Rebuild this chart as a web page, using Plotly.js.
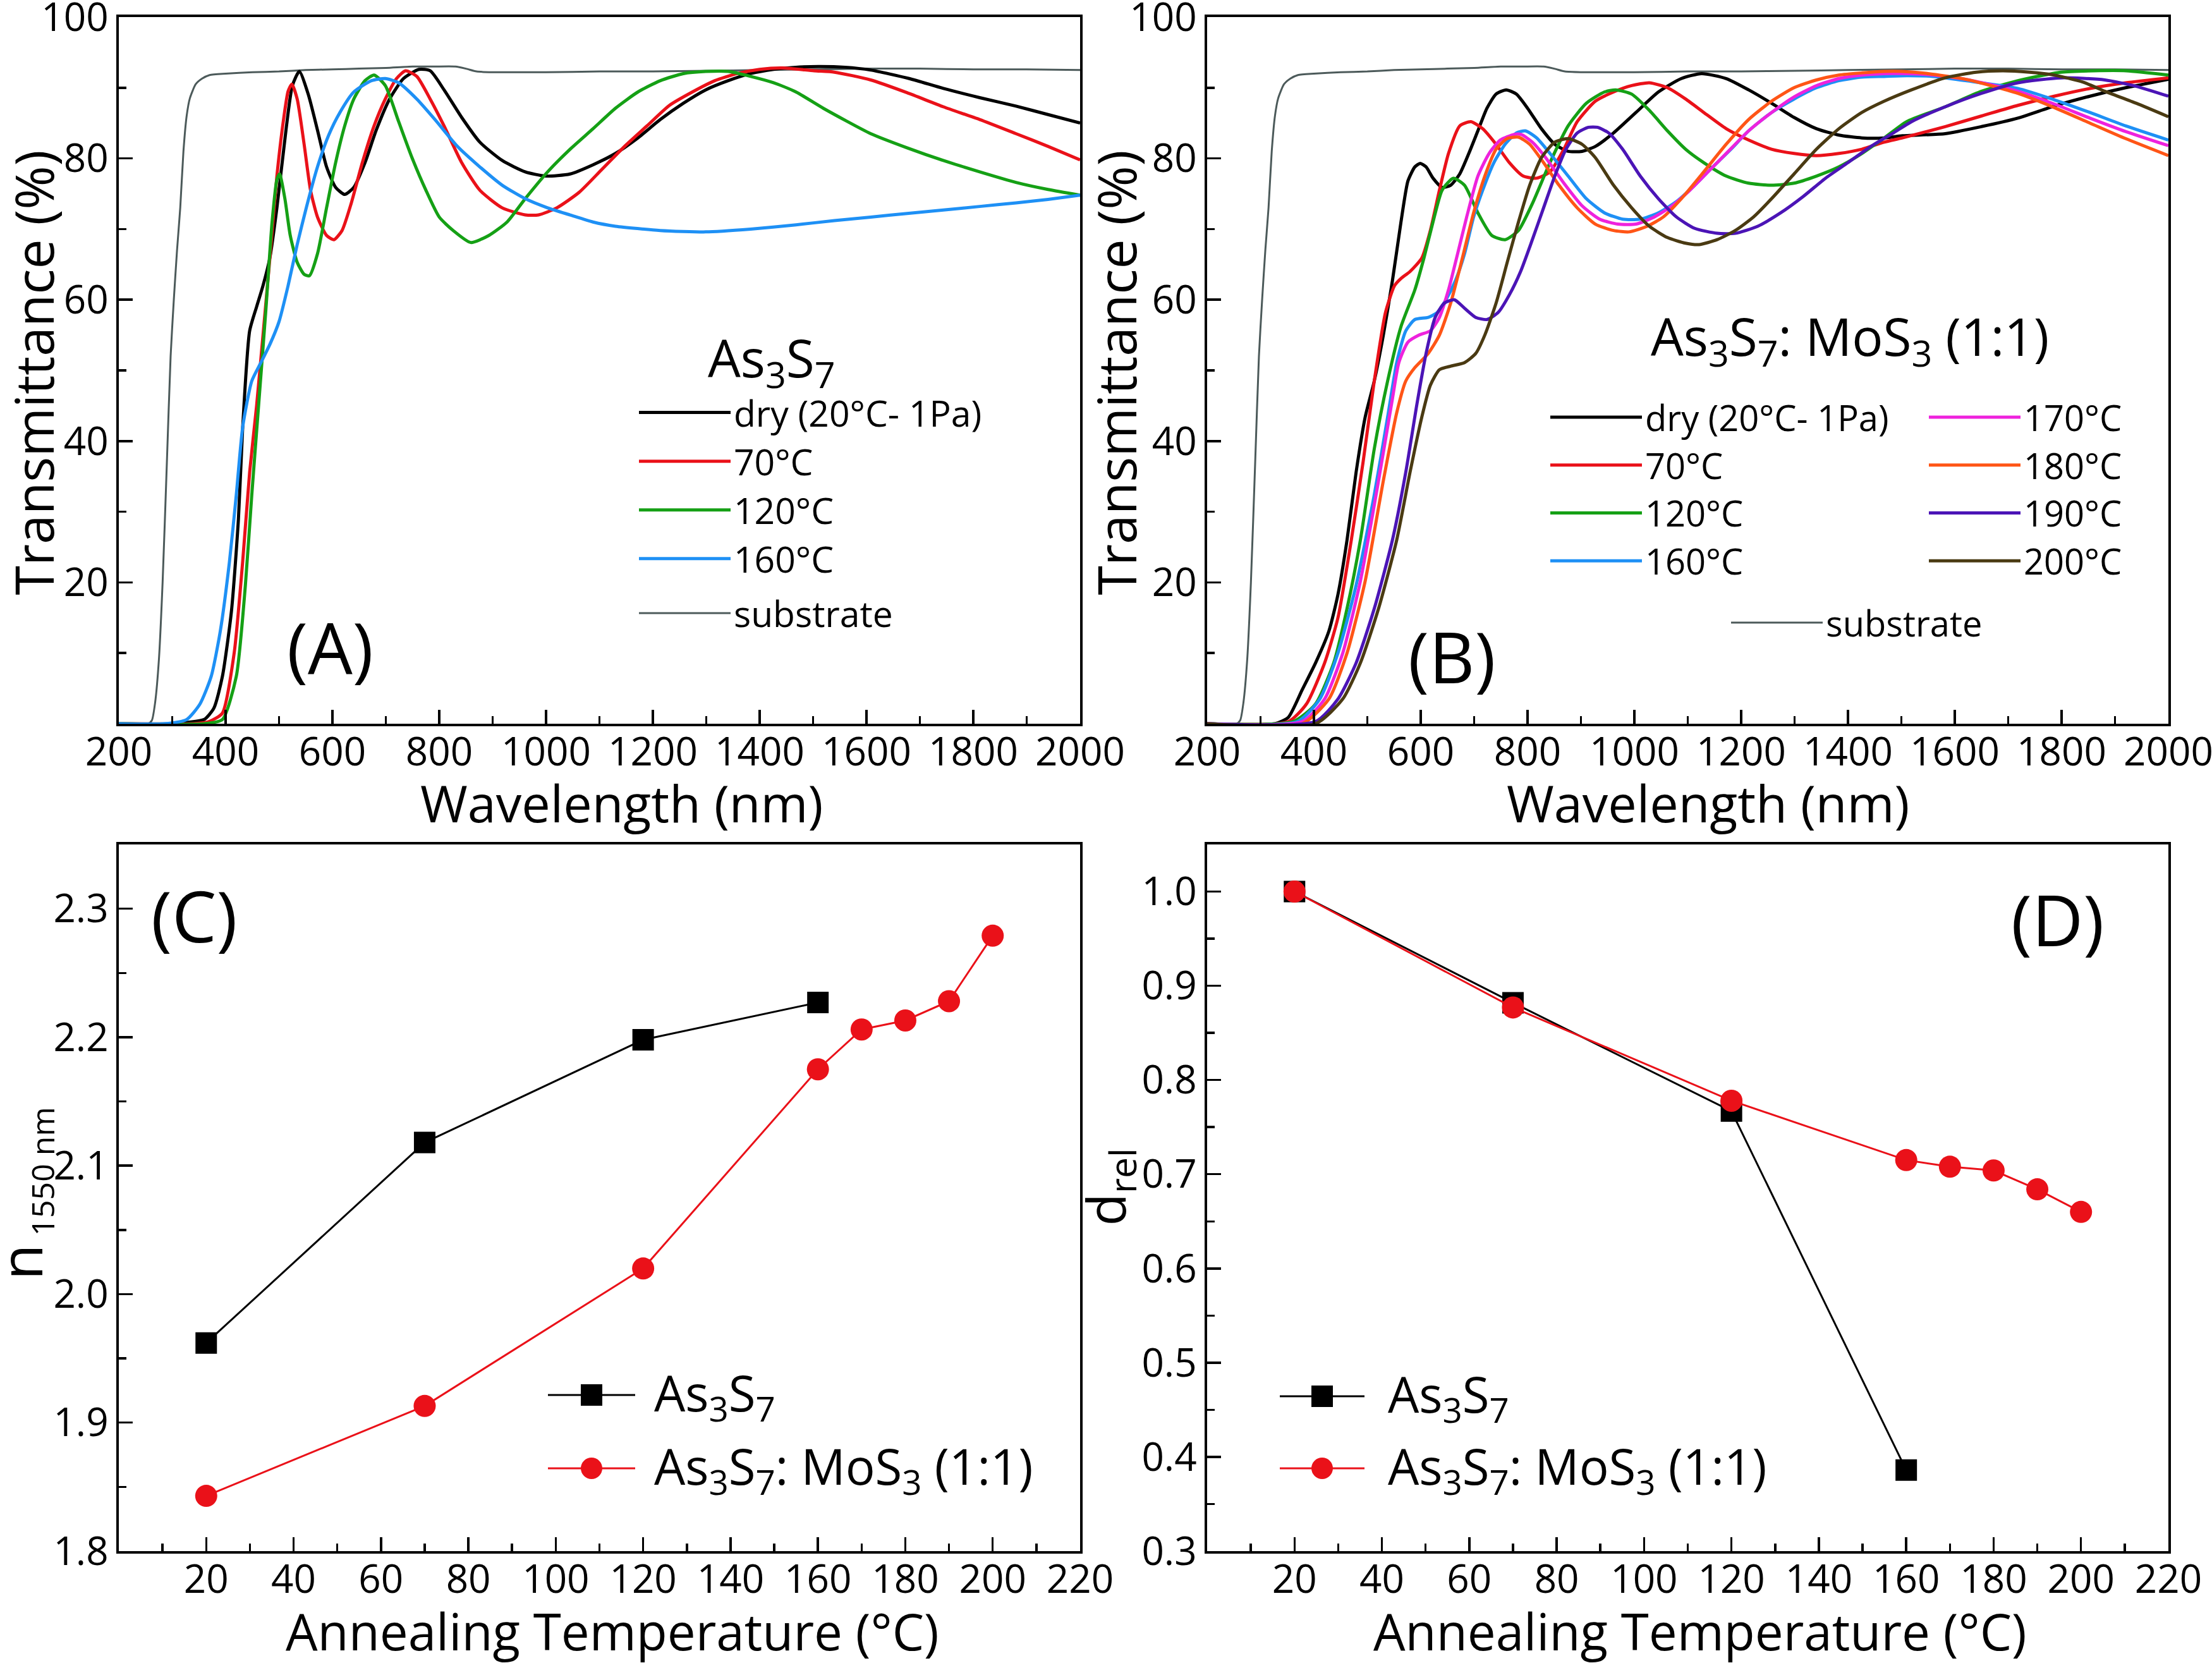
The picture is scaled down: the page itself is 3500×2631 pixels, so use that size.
<!DOCTYPE html>
<html>
<head>
<meta charset="utf-8">
<script src="https://cdn.plot.ly/plotly-3.0.1.min.js"></script>
<style>
  html, body { margin: 0; padding: 0; background: #ffffff; }
  #chart { width: 3500px; height: 2631px; }
</style>
</head>
<body>
<div id="chart"></div>
<script>
// ---------- Transmittance spectra (wavelength in nm, transmittance in %) ----------

// Bare glass substrate
const wlSubstrate = [200, 255, 262, 268, 275, 282, 290, 297, 303, 309, 315, 321, 327, 333, 344, 356, 370, 400, 450, 500, 550, 600, 650, 700, 750, 790, 830, 850, 870, 900, 1000, 1100, 1200, 1300, 1400, 1500, 1600, 1700, 1800, 1900, 2000];
const trSubstrate = [0, 0, 0.5, 3, 9, 20, 37, 52, 60, 67, 73, 81, 86, 88.5, 90.5, 91.3, 91.8, 92.0, 92.2, 92.3, 92.5, 92.6, 92.7, 92.8, 93.0, 93.0, 93.0, 92.7, 92.3, 92.2, 92.2, 92.3, 92.3, 92.4, 92.5, 92.6, 92.7, 92.7, 92.6, 92.6, 92.5];

// (A) As3S7 films
const wlA_dry = [200, 300, 330, 360, 378, 394, 411, 424, 432, 445, 458, 470, 483, 496, 513, 525, 538, 555, 572, 589, 606, 623, 640, 661, 682, 707, 733, 762, 783, 809, 842, 876, 918, 961, 999, 1045, 1088, 1130, 1172, 1214, 1257, 1299, 1341, 1383, 1426, 1468, 1510, 1560, 1608, 1680, 1744, 1812, 1880, 1940, 2000];
const trA_dry = [0, 0, 0.2, 0.6, 2.2, 6.7, 16, 29, 42, 55.6, 59, 62, 66, 73, 84, 90.3, 92.3, 89, 84, 78.8, 75.9, 74.9, 75.9, 79.4, 84, 88.4, 91.3, 92.6, 92.4, 89.7, 85.8, 82.3, 79.7, 78.1, 77.5, 77.8, 79.1, 80.7, 82.9, 85.5, 87.8, 89.7, 91, 92, 92.6, 92.9, 93.0, 92.9, 92.5, 91.3, 89.9, 88.6, 87.4, 86.2, 85];

const wlA_70 = [200, 340, 369, 394, 416, 432, 445, 458, 470, 483, 496, 509, 517, 524, 534, 547, 559, 572, 589, 603, 618, 635, 656, 678, 699, 720, 737, 758, 783, 809, 842, 876, 918, 961, 986, 1020, 1062, 1104, 1147, 1189, 1231, 1274, 1316, 1358, 1400, 1443, 1502, 1540, 1608, 1676, 1744, 1812, 1880, 1940, 2000];
const trA_70 = [0, 0, 0.3, 1.5, 10, 23, 35.6, 45, 55, 66, 77.5, 85.8, 89.5, 90.5, 88.4, 82, 75.5, 71.7, 69.1, 68.5, 69.8, 73.6, 79.4, 84.6, 88.4, 91.3, 92.4, 91.6, 88.4, 84.6, 79.4, 75.5, 73, 72, 72, 73, 75.2, 78.4, 81.7, 84.6, 87.5, 89.4, 91, 92, 92.6, 92.8, 92.4, 92.2, 91.1, 89.3, 87.3, 85.5, 83.5, 81.7, 79.8];

const wlA_120 = [200, 360, 394, 420, 437, 449, 462, 475, 487, 496, 501, 511, 521, 534, 547, 557, 572, 589, 606, 623, 640, 661, 678, 699, 724, 749, 775, 800, 826, 859, 893, 927, 961, 1003, 1045, 1088, 1130, 1172, 1214, 1257, 1299, 1341, 1383, 1426, 1468, 1519, 1608, 1676, 1744, 1812, 1880, 1940, 2000];
const trA_120 = [0, 0, 0.6, 6.7, 19.6, 32.4, 45.3, 58.2, 71, 77, 77.8, 74.3, 69.1, 65.3, 63.6, 63.4, 66.5, 73, 79.4, 84.6, 88.4, 91, 91.8, 90.3, 85.2, 80.1, 75.5, 71.7, 69.8, 68.1, 69.1, 71, 74.3, 78.1, 81.3, 84.2, 87.1, 89.4, 91, 92, 92.3, 92.3, 91.6, 90.7, 89.4, 87.1, 83.5, 81.5, 79.7, 78.1, 76.6, 75.6, 74.8];

const wlA_160 = [200, 285, 327, 352, 373, 390, 407, 420, 432, 449, 466, 483, 500, 517, 534, 551, 572, 593, 614, 640, 673, 699, 724, 758, 792, 834, 876, 918, 961, 1003, 1045, 1088, 1130, 1214, 1299, 1383, 1468, 1540, 1608, 1676, 1744, 1812, 1880, 1940, 2000];
const trA_160 = [0, 0, 0.6, 2.8, 6.7, 13.1, 22.8, 32.4, 42, 48.5, 51.1, 53.7, 56.9, 62, 67.8, 73, 78.8, 83.3, 86.5, 89.4, 91, 91.3, 90.7, 88.4, 85.5, 81.7, 78.8, 76.2, 74.3, 73, 72, 71, 70.4, 69.8, 69.6, 70, 70.6, 71.2, 71.7, 72.2, 72.7, 73.2, 73.7, 74.2, 74.8];

// (B) As3S7 : MoS3 (1:1) films
const wlB_dry = [200, 327, 352, 378, 403, 428, 445, 462, 479, 496, 513, 530, 547, 563, 576, 589, 599, 610, 623, 640, 656, 673, 690, 707, 724, 741, 760, 779, 800, 826, 851, 876, 902, 927, 961, 1003, 1045, 1088, 1126, 1172, 1214, 1257, 1299, 1341, 1383, 1426, 1468, 1502, 1582, 1650, 1718, 1786, 1853, 1920, 2000];
const trB_dry = [0, 0, 0.9, 4.8, 8.6, 13.1, 18.3, 26, 35.6, 43.4, 48.5, 55, 62.7, 71, 76.8, 78.8, 79.3, 78.8, 77.2, 75.9, 76.2, 77.8, 80.7, 83.9, 87.1, 89.1, 89.7, 89.1, 87.1, 84.2, 82, 81, 81, 81.7, 83.6, 86.5, 89.4, 91.3, 92, 91.3, 89.7, 87.8, 85.8, 84.2, 83.3, 82.9, 82.9, 83.2, 83.5, 84.5, 85.7, 87.4, 88.8, 90, 91.2];

const wlB_70 = [200, 352, 386, 420, 445, 470, 492, 513, 534, 551, 563, 580, 602, 618, 635, 652, 673, 694, 716, 741, 766, 792, 817, 842, 868, 893, 927, 961, 995, 1028, 1062, 1096, 1130, 1172, 1214, 1257, 1299, 1341, 1383, 1426, 1468, 1502, 1582, 1650, 1718, 1786, 1853, 1920, 2000];
const trB_70 = [0, 0.3, 2.8, 8.6, 15, 26, 37, 48.5, 58.2, 62, 63, 64, 65.9, 69.8, 75.5, 80.7, 84.6, 85.2, 84.2, 82, 79.4, 77.5, 77.2, 78.1, 81.3, 85.2, 88.1, 89.4, 90.3, 90.7, 90, 88.4, 86.5, 84.2, 82.6, 81.3, 80.7, 80.4, 80.7, 81.3, 82.3, 82.9, 84.5, 86, 87.5, 88.8, 89.9, 90.7, 91.4];

const wlB_120 = [200, 361, 403, 437, 462, 487, 513, 538, 563, 589, 606, 623, 640, 661, 682, 707, 733, 758, 783, 809, 842, 876, 910, 944, 965, 995, 1028, 1062, 1096, 1130, 1172, 1214, 1257, 1299, 1341, 1383, 1426, 1468, 1510, 1582, 1650, 1718, 1799, 1860, 1921, 2000];
const trB_120 = [0, 0.3, 2.8, 8.6, 16.3, 26, 38.9, 48.5, 56.2, 61.4, 65.9, 71, 75.5, 77.2, 76.2, 72.3, 69.1, 68.5, 69.8, 73.6, 79.4, 84.6, 87.8, 89.4, 89.7, 89.1, 86.8, 83.9, 81.3, 79.4, 77.5, 76.5, 76.2, 76.5, 77.5, 78.8, 80.7, 82.9, 85.2, 87.3, 89.5, 91, 92.2, 92.4, 92.4, 91.8];

const wlB_160 = [200, 369, 411, 445, 479, 513, 538, 555, 572, 589, 614, 631, 648, 665, 682, 699, 716, 737, 758, 779, 796, 817, 842, 876, 910, 944, 978, 1011, 1045, 1079, 1113, 1147, 1181, 1214, 1257, 1299, 1341, 1383, 1426, 1468, 1510, 1560, 1620, 1718, 1786, 1853, 1920, 2000];
const trB_160 = [0, 0.3, 3.5, 10, 19.6, 32.4, 43.4, 51.1, 55.6, 57.2, 57.5, 58.2, 60.1, 62.7, 66.5, 71.7, 75.5, 79.4, 82, 83.6, 83.9, 82.9, 80.7, 77.5, 74.3, 72.3, 71.4, 71.4, 72.3, 73.9, 76.2, 78.8, 81.3, 83.9, 86.5, 88.4, 90, 91, 91.5, 91.6, 91.7, 91.6, 91, 89.9, 88.3, 86.5, 84.6, 82.6];

const wlB_170 = [200, 378, 420, 454, 487, 521, 547, 559, 576, 597, 618, 635, 652, 669, 686, 707, 728, 749, 775, 788, 809, 834, 868, 902, 935, 969, 1003, 1037, 1071, 1104, 1138, 1172, 1214, 1257, 1299, 1341, 1383, 1426, 1468, 1510, 1560, 1620, 1718, 1786, 1853, 1920, 2000];
const trB_170 = [0, 0.3, 3.5, 10, 20.2, 34.4, 46, 51.1, 54, 55, 55.6, 57.5, 61.4, 66.5, 71.7, 77.5, 80.7, 82.6, 83.4, 83.4, 82.3, 80.1, 76.5, 73.3, 71.4, 70.7, 70.7, 71.7, 73.3, 75.5, 78.1, 80.7, 83.9, 86.5, 88.7, 90.3, 91.3, 91.8, 92, 92, 91.8, 91.2, 89.5, 87.7, 85.7, 83.8, 81.8];

const wlB_180 = [200, 378, 428, 462, 496, 530, 555, 572, 589, 614, 635, 656, 678, 699, 720, 741, 762, 783, 804, 830, 859, 893, 927, 961, 990, 1024, 1054, 1088, 1130, 1172, 1214, 1257, 1299, 1341, 1383, 1426, 1468, 1500, 1550, 1620, 1718, 1786, 1853, 1920, 2000];
const trB_180 = [0, 0, 3.5, 10, 20.2, 34.4, 44, 48.5, 50.4, 52.4, 55, 59.5, 65.9, 72.3, 77.5, 81.3, 82.8, 83, 82, 79.4, 76.2, 73, 70.7, 69.8, 69.6, 70.4, 71.7, 74.3, 78.1, 82, 85.5, 88.1, 90, 91.1, 91.8, 92.1, 92.3, 92.3, 92, 91.2, 89.2, 87.2, 85, 82.8, 80.4];

const wlB_190 = [200, 403, 445, 479, 513, 547, 572, 593, 610, 627, 644, 663, 682, 703, 724, 745, 766, 787, 809, 830, 851, 872, 893, 914, 931, 952, 978, 1011, 1045, 1079, 1113, 1155, 1189, 1231, 1274, 1316, 1358, 1400, 1443, 1485, 1519, 1582, 1650, 1718, 1799, 1881, 1940, 2000];
const trB_190 = [0, 0.3, 3.5, 8.6, 16.3, 26, 35.6, 45.3, 52.4, 57.5, 59.5, 60, 58.8, 57.5, 57.2, 58.2, 60.7, 64, 68.5, 73, 77.5, 81.3, 83.6, 84.4, 84.4, 83.6, 81.3, 77.5, 74.3, 71.7, 70.1, 69.4, 69.4, 70.4, 72.3, 74.6, 77.2, 79.4, 81.7, 83.6, 85.2, 87.3, 89.2, 90.7, 91.4, 91.1, 90.2, 88.8];

const wlB_200 = [200, 403, 454, 487, 521, 555, 580, 602, 618, 635, 656, 682, 703, 720, 741, 762, 783, 804, 826, 851, 876, 902, 927, 961, 995, 1028, 1062, 1096, 1121, 1155, 1189, 1223, 1257, 1299, 1341, 1383, 1426, 1468, 1519, 1582, 1640, 1690, 1740, 1786, 1840, 1881, 1940, 2000];
const trB_200 = [0, 0, 3.5, 8.6, 16.3, 26, 35.6, 43.4, 47.9, 50.1, 50.6, 51.1, 52.4, 55, 59.5, 65.3, 71, 76.2, 80.1, 82.3, 82.8, 82, 80.1, 76.2, 73, 70.4, 68.8, 68, 67.8, 68.5, 69.8, 71.7, 74.3, 77.8, 81.3, 84.2, 86.5, 88.1, 89.7, 91.4, 92.2, 92.4, 92.2, 91.8, 90.8, 89.5, 87.8, 85.9];

// ---------- Film properties vs annealing temperature ----------
const tempAs = [20, 70, 120, 160];
const tempMo = [20, 70, 120, 160, 170, 180, 190, 200];
const nAs = [1.962, 2.118, 2.198, 2.227];               // (C) refractive index at 1550 nm
const nMo = [1.843, 1.913, 2.020, 2.175, 2.206, 2.213, 2.228, 2.279];
const dAs = [1.000, 0.882, 0.767, 0.386];               // (D) relative thickness
const dMo = [1.000, 0.877, 0.778, 0.715, 0.708, 0.704, 0.684, 0.660];

// ---------- Tick values and labels ----------
const wlTicks = [200, 400, 600, 800, 1000, 1200, 1400, 1600, 1800, 2000];
const wlMinor = [300, 500, 700, 900, 1100, 1300, 1500, 1700, 1900];
const trTicks = [20, 40, 60, 80, 100];
const trMinor = [10, 30, 50, 70, 90];
const tempTicks = [20, 40, 60, 80, 100, 120, 140, 160, 180, 200, 220];
const tempMinor = [10, 30, 50, 70, 90, 110, 130, 150, 170, 190, 210];
const nTicks = [1.8, 1.9, 2.0, 2.1, 2.2, 2.3];
const nMinor = [1.85, 1.95, 2.05, 2.15, 2.25];
const dTicks = [0.3, 0.4, 0.5, 0.6, 0.7, 0.8, 0.9, 1.0];
const dMinor = [0.35, 0.45, 0.55, 0.65, 0.75, 0.85, 0.95];

const labelsA = ['dry (20°C- 1Pa)', '70°C', '120°C', '160°C'];
const labelsB1 = ['dry (20°C- 1Pa)', '70°C', '120°C', '160°C'];
const labelsB2 = ['170°C', '180°C', '190°C', '200°C'];
const nameAs = 'As<sub>3</sub>S<sub>7</sub>';
const nameMo = 'As<sub>3</sub>S<sub>7</sub>: MoS<sub>3</sub> (1:1)';
const titleWavelength = 'Wavelength (nm)';
const titleTransmittance = 'Transmittance (%)';
const titleTemperature = 'Annealing Temperature (°C)';
const titleIndex = 'n<sub><span style="font-size:50px"> 1550 nm</span></sub>';
const titleThickness = 'd<sub>rel</sub>';

// ---------- Styling ----------
const W = 3500, H = 2631;
const FONT = '"Open Sans", "Noto Sans", sans-serif';
const px = v => v / W;          // pixel column -> paper x
const py = v => 1 - v / H;      // pixel row -> paper y

const C = {
  black: '#000000', red: '#ea1119', green: '#15a015', blue: '#1e90f5',
  magenta: '#ee22dd', orange: '#ff5516', purple: '#4b14b6', brown: '#4a3a12',
  substrate: '#4c5a5a'
};

function spectrum(x, y, name, color, ax, legend, group, rank, width) {
  return {
    type: 'scatter', mode: 'lines', x: x, y: y, name: name,
    xaxis: 'x' + ax, yaxis: 'y' + ax, legend: legend, legendgroup: group, legendrank: rank,
    line: { color: color, width: width || 5, shape: 'spline', smoothing: 0.6 },
    hoverinfo: 'skip'
  };
}

const traces = [
  // (A)
  spectrum(wlSubstrate, trSubstrate, 'substrate', C.substrate, '', 'legend', 'a2', 5, 3),
  spectrum(wlA_dry, trA_dry, labelsA[0], C.black, '', 'legend', 'a1', 1),
  spectrum(wlA_70, trA_70, labelsA[1], C.red, '', 'legend', 'a1', 2),
  spectrum(wlA_120, trA_120, labelsA[2], C.green, '', 'legend', 'a1', 3),
  spectrum(wlA_160, trA_160, labelsA[3], C.blue, '', 'legend', 'a1', 4),
  // (B)
  spectrum(wlSubstrate, trSubstrate, 'substrate', C.substrate, '2', 'legend4', 'b3', 1, 3),
  spectrum(wlB_dry, trB_dry, labelsB1[0], C.black, '2', 'legend2', 'b1', 1),
  spectrum(wlB_70, trB_70, labelsB1[1], C.red, '2', 'legend2', 'b1', 2),
  spectrum(wlB_120, trB_120, labelsB1[2], C.green, '2', 'legend2', 'b1', 3),
  spectrum(wlB_160, trB_160, labelsB1[3], C.blue, '2', 'legend2', 'b1', 4),
  spectrum(wlB_170, trB_170, labelsB2[0], C.magenta, '2', 'legend3', 'b2', 1),
  spectrum(wlB_180, trB_180, labelsB2[1], C.orange, '2', 'legend3', 'b2', 2),
  spectrum(wlB_190, trB_190, labelsB2[2], C.purple, '2', 'legend3', 'b2', 3),
  spectrum(wlB_200, trB_200, labelsB2[3], C.brown, '2', 'legend3', 'b2', 4),
  // (C)
  { type: 'scatter', mode: 'lines+markers', x: tempAs, y: nAs, name: nameAs, xaxis: 'x3', yaxis: 'y3',
    showlegend: false, hoverinfo: 'skip',
    line: { color: C.black, width: 3 }, marker: { symbol: 'square', size: 34, color: C.black } },
  { type: 'scatter', mode: 'lines+markers', x: tempMo, y: nMo, name: nameMo, xaxis: 'x3', yaxis: 'y3',
    showlegend: false, hoverinfo: 'skip',
    line: { color: C.red, width: 3 }, marker: { symbol: 'circle', size: 35, color: C.red } },
  // (D)
  { type: 'scatter', mode: 'lines+markers', x: tempAs, y: dAs, name: nameAs, xaxis: 'x4', yaxis: 'y4',
    showlegend: false, hoverinfo: 'skip',
    line: { color: C.black, width: 3 }, marker: { symbol: 'square', size: 34, color: C.black } },
  { type: 'scatter', mode: 'lines+markers', x: tempMo, y: dMo, name: nameMo, xaxis: 'x4', yaxis: 'y4',
    showlegend: false, hoverinfo: 'skip',
    line: { color: C.red, width: 3 }, marker: { symbol: 'circle', size: 35, color: C.red } }
];

function axis(opts) {
  const base = {
    showline: true, linewidth: 4, linecolor: '#000', mirror: true,
    ticks: 'inside', ticklen: 22, tickwidth: 3.5, tickcolor: '#000',
    showgrid: false, zeroline: false, automargin: false, fixedrange: true,
    tickfont: { family: FONT, size: 62, color: '#000' },
    tickmode: 'array', ticklabeloverflow: 'allow'
  };
  const out = Object.assign({}, base, opts);
  out.minor = Object.assign({ ticks: 'inside', ticklen: 12, tickwidth: 3.5, tickcolor: '#000', showgrid: false }, opts.minor || {});
  return out;
}

const legendBase = {
  xanchor: 'left', yanchor: 'top', bgcolor: 'rgba(0,0,0,0)', borderwidth: 0,
  font: { family: FONT, size: 57, color: '#000' }, itemwidth: 145,
  itemclick: false, itemdoubleclick: false
};
const legendFontB = { family: FONT, size: 56, color: '#000' };

// Legend swatches for (C) and (D): line with a full-size marker in the middle
function swatch(x0, x1, yc, color, symbol) {
  const xm = (x0 + x1) / 2, r = 17;
  const shapes = [{ type: 'line', xref: 'paper', yref: 'paper', x0: px(x0), x1: px(x1), y0: py(yc), y1: py(yc),
    line: { color: color, width: 3 } }];
  shapes.push({ type: symbol === 'square' ? 'rect' : 'circle', xref: 'paper', yref: 'paper',
    x0: px(xm - r), x1: px(xm + r), y0: py(yc + r), y1: py(yc - r),
    fillcolor: color, line: { color: color, width: 0 } });
  return shapes;
}

const shapes = [].concat(
  swatch(867, 1005, 2207, C.black, 'square'),
  swatch(867, 1005, 2323, C.red, 'circle'),
  swatch(2025, 2159, 2209, C.black, 'square'),
  swatch(2025, 2159, 2323, C.red, 'circle')
);

function label(text, x, y, size, xanchor, yanchor, angle) {
  return { text: text, xref: 'paper', yref: 'paper', x: px(x), y: py(y), showarrow: false,
    xanchor: xanchor || 'center', yanchor: yanchor || 'middle', textangle: angle || 0,
    font: { family: FONT, size: size, color: '#000' } };
}

const annotations = [
  // panel letters
  label('(A)', 522, 1023, 112),
  label('(B)', 2297, 1037, 112),
  label('(C)', 307, 1447, 112),
  label('(D)', 3255, 1453, 112),
  // sample headings of the spectra legends
  label(nameAs, 1118, 570, 82, 'left'),
  label(nameMo, 2610, 536, 82, 'left'),
  // legend texts of (C) and (D)
  label(nameAs, 1033, 2207, 78, 'left'),
  label(nameMo, 1033, 2323, 78, 'left'),
  label(nameAs, 2194, 2209, 78, 'left'),
  label(nameMo, 2194, 2323, 78, 'left'),
  // axis titles
  label(titleWavelength, 983, 1212, 81, 'center', 'top'),
  label(titleWavelength, 2702, 1212, 81, 'center', 'top'),
  label(titleTemperature, 969, 2523, 80, 'center', 'top'),
  label(titleTemperature, 2690, 2523, 80, 'center', 'top'),
  label(titleTransmittance, -8, 590, 84, 'left', 'middle', -90),
  label(titleTransmittance, 1705, 590, 84, 'left', 'middle', -90),
  label(titleIndex, -33, 1888, 92, 'left', 'middle', -90),
  label(titleThickness, 1688, 1878, 84, 'left', 'middle', -90)
];

const layout = {
  width: W, height: H,
  margin: { l: 0, r: 0, t: 0, b: 0, pad: 0 },
  paper_bgcolor: '#ffffff', plot_bgcolor: '#ffffff',
  font: { family: FONT, color: '#000' },
  showlegend: true,
  xaxis: axis({ domain: [px(188), px(1709)], range: [200, 2000], anchor: 'y', ticklabelstandoff: -12,
    tickvals: wlTicks, minor: { tickvals: wlMinor } }),
  yaxis: axis({ domain: [py(1145), py(27)], range: [0, 100], anchor: 'x',
    tickvals: trTicks, minor: { tickvals: trMinor } }),
  xaxis2: axis({ domain: [px(1910), px(3431)], range: [200, 2000], anchor: 'y2', ticklabelstandoff: -12,
    tickvals: wlTicks, minor: { tickvals: wlMinor } }),
  yaxis2: axis({ domain: [py(1145), py(27)], range: [0, 100], anchor: 'x2',
    tickvals: trTicks, minor: { tickvals: trMinor } }),
  xaxis3: axis({ domain: [px(188), px(1709)], range: [0, 220], anchor: 'y3', ticklabelstandoff: -12,
    tickvals: tempTicks, minor: { tickvals: tempMinor } }),
  yaxis3: axis({ domain: [py(2454), py(1336)], range: [1.8, 2.35], anchor: 'x3',
    tickvals: nTicks, tickformat: '.1f', minor: { tickvals: nMinor } }),
  xaxis4: axis({ domain: [px(1910), px(3431)], range: [0, 220], anchor: 'y4', ticklabelstandoff: -12,
    tickvals: tempTicks, minor: { tickvals: tempMinor } }),
  yaxis4: axis({ domain: [py(2454), py(1336)], range: [0.3, 1.05], anchor: 'x4',
    tickvals: dTicks, tickformat: '.1f', minor: { tickvals: dMinor } }),
  legend: Object.assign({}, legendBase, { x: px(1006), y: py(609), traceorder: 'grouped', tracegroupgap: 9 }),
  legend2: Object.assign({}, legendBase, { x: px(2448), y: py(617), font: legendFontB }),
  legend3: Object.assign({}, legendBase, { x: px(3047), y: py(617), font: legendFontB }),
  legend4: Object.assign({}, legendBase, { x: px(2734), y: py(942), font: legendFontB }),
  shapes: shapes,
  annotations: annotations
};

Plotly.newPlot('chart', traces, layout, { staticPlot: true, displayModeBar: false });
</script>
</body>
</html>
